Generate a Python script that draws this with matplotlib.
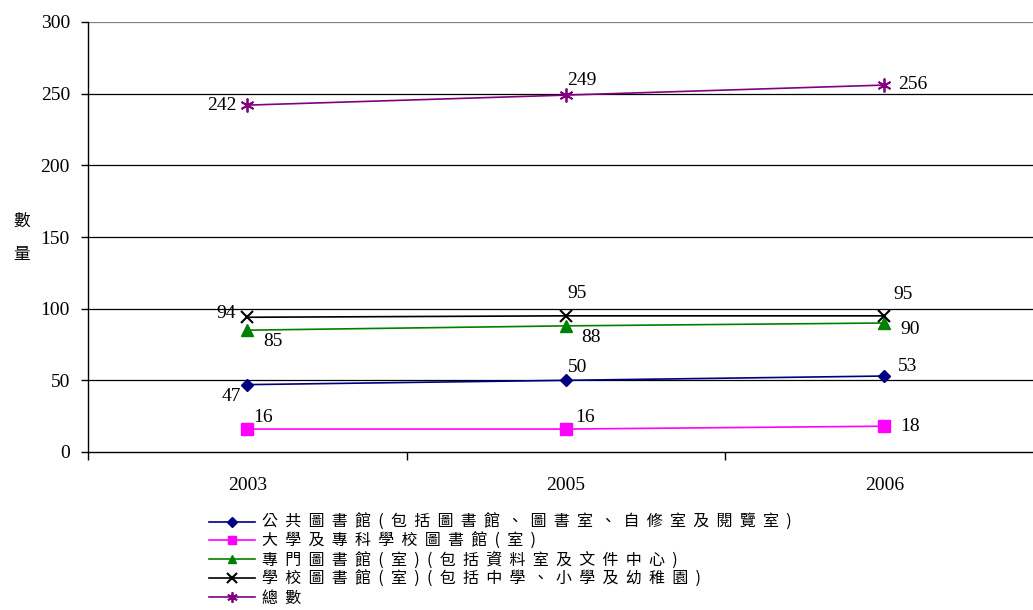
import matplotlib
matplotlib.use("Agg")
import matplotlib.pyplot as plt
import numpy as np

years = ["2003", "2005", "2006"]
series_names = [
    "公共圖書館(包括圖書館、圖書室、自修室及閱覽室)",
    "大學及專科學校圖書館(室)",
    "專門圖書館(室)(包括資料室及文件中心)",
    "學校圖書館(室)(包括中學、小學及幼稚園)",
    "總數",
]
public_lib = [47, 50, 53]
univ_lib = [16, 16, 18]
special_lib = [85, 88, 90]
school_lib = [94, 95, 95]
total = [242, 249, 256]
y_ticks = [0, 50, 100, 150, 200, 250, 300]
y_label = "數量"

series_values = [public_lib, univ_lib, special_lib, school_lib, total]
colors = ["#000080", "#FF00FF", "#008000", "#000000", "#800080"]
markers = ["D", "s", "^", "x", (6, 2, 0)]
msizes = [6.5, 8, 8.5, 9, 10]
mews = [1, 1, 1, 1.5, 1.3]
# label offsets in pixels (dx, dy, ha) for each series / point
offsets = [
    [(-6, -12, "right"), (2, 13, "left"), (14, 10, "left")],
    [(6, 12, "left"), (9, 12, "left"), (16, 0, "left")],
    [(16, -11, "left"), (15, -12, "left"), (16, -6, "left")],
    [(-11, 4, "right"), (2, 22, "left"), (9, 21, "left")],
    [(-11, 0, "right"), (1, 15, "left"), (14, 1, "left")],
]

serif = ["Liberation Serif", "DejaVu Serif"]
cjk = ["Noto Sans CJK TC", "DejaVu Sans"]

fig = plt.figure(figsize=(10.33, 6.10), dpi=100)
W, H = 1033, 610
ax = fig.add_axes([88 / W, 1 - 452 / H, 1 - 88 / W, (452 - 22) / H])

x = np.arange(len(years)) + 0.5
for vals, c, m, ms, mew, name in zip(series_values, colors, markers, msizes, mews, series_names):
    ax.plot(x, vals, color=c, marker=m, markersize=ms, markeredgewidth=mew,
            markerfacecolor=c, markeredgecolor=c, linewidth=1.2,
            label="  ".join(list(name)), zorder=3, clip_on=False)

px2pt = 72 / 100
for vals, offs in zip(series_values, offsets):
    for xi, v, (dx, dy, ha) in zip(x, vals, offs):
        ax.annotate(str(v), (xi, v), xytext=(dx * px2pt, dy * px2pt),
                    textcoords="offset points", ha=ha, va="center",
                    fontsize=14, family=serif, color="black", zorder=4)

ax.set_yticks(y_ticks)
ax.set_yticklabels([str(t) for t in y_ticks], family=serif, fontsize=14)
ax.tick_params(axis="y", direction="out", length=5, width=1, pad=8)

ax.set_xticks([0, 1, 2, 3])
ax.set_xticklabels([])
ax.set_xticks(x, minor=True)
ax.set_xticklabels(years, minor=True, family=serif, fontsize=14)
ax.tick_params(axis="x", which="major", direction="out", length=6, width=1)
ax.tick_params(axis="x", which="minor", length=0, pad=18)

ax.set_ylim(0, 300)
ax.set_xlim(0, (W - 88) / 318.5)

for yv in y_ticks[1:]:
    ax.axhline(yv, color="#000000" if yv < 300 else "#808080", linewidth=0.9, zorder=1)

for s in ["top", "right"]:
    ax.spines[s].set_visible(False)
ax.spines["left"].set_linewidth(1)
ax.spines["bottom"].set_linewidth(1)

ax.set_ylabel("\n".join(list(y_label)), rotation=0, family=cjk, fontsize=12,
              linespacing=2.2, va="center", ha="center")
ax.yaxis.set_label_coords(-66 / 945, (452 - 238) / 430)

leg = fig.legend(loc="upper left", bbox_to_anchor=(209 / W, 1 - 514 / H),
                 frameon=False, prop={"family": cjk, "size": 11.5},
                 handlelength=2.9, handletextpad=0.4, labelspacing=0.11,
                 borderaxespad=0, borderpad=0, markerscale=0.75)

fig.savefig("out.png", dpi=100)
